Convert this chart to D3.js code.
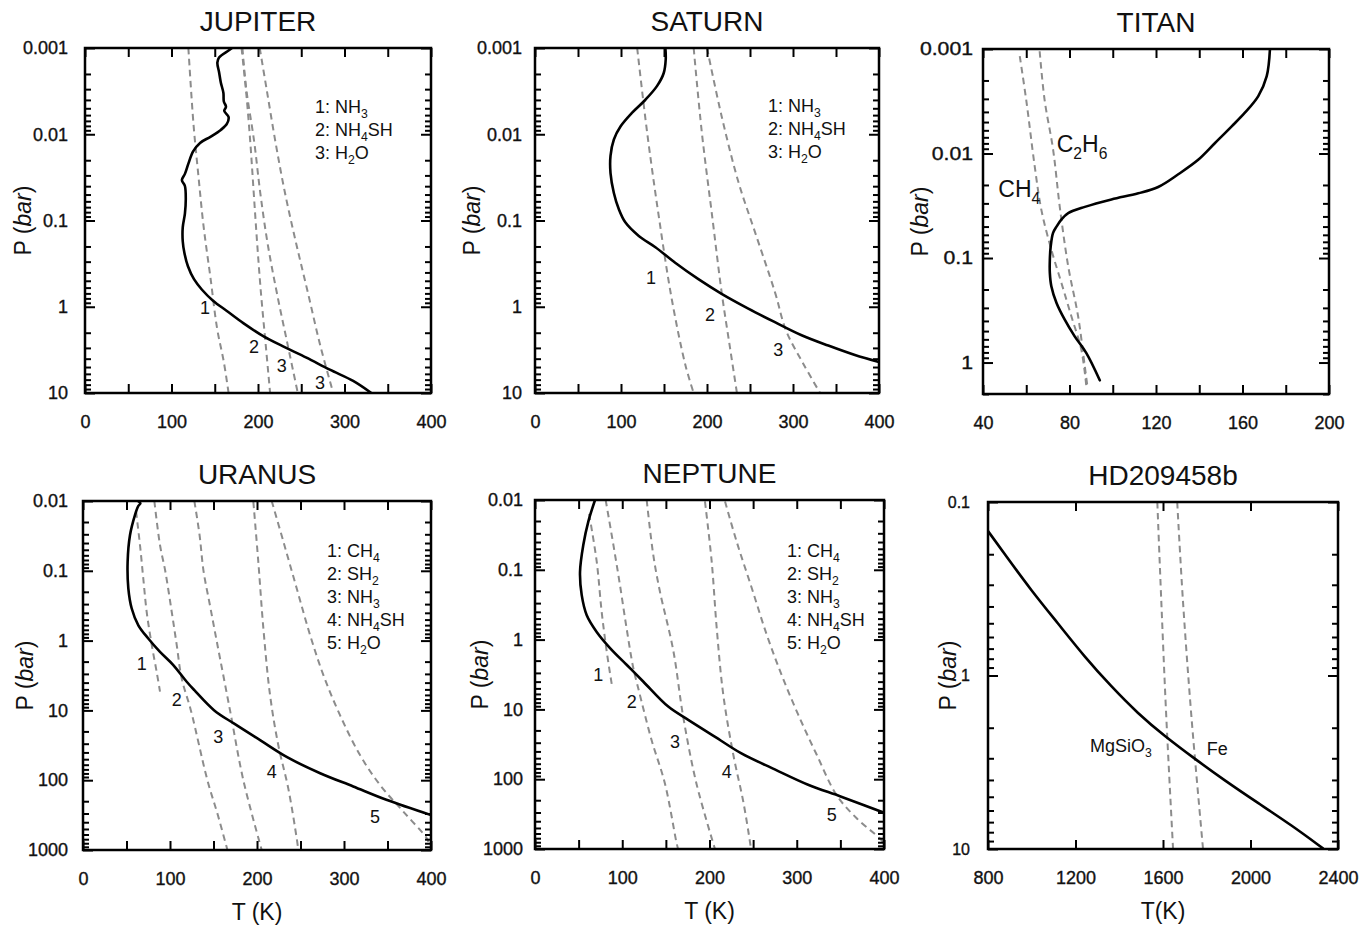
<!DOCTYPE html>
<html>
<head>
<meta charset="utf-8">
<script src="https://cdn.jsdelivr.net/npm/d3@7"></script>
<style>
  body { margin: 0; background: #fff; }
  svg { display: block; }
  text { font-family: "Liberation Sans", Arial, Helvetica, sans-serif; fill: #111; }
  .profile { fill: none; stroke: #000; stroke-width: 2.6; stroke-linejoin: round; stroke-linecap: round; }
  .cond { fill: none; stroke: #8c8c8c; stroke-width: 2; stroke-dasharray: 6.5 4.5; }
  .heavy { stroke: #111; stroke-width: 0.35; }
</style>
</head>
<body>
<svg id="chart" width="1365" height="926"></svg>
<script>
// ---------- axis tick values ----------
const tempTicksGiant = [0, 100, 200, 300, 400];
const tempTicksTitan = [40, 80, 120, 160, 200];
const tempTicksHD = [800, 1200, 1600, 2000, 2400];
const presTicksUpper = [0.001, 0.01, 0.1, 1, 10];
const presLabelsUpper = ["0.001", "0.01", "0.1", "1", "10"];
const presTicksTitan = [0.001, 0.01, 0.1, 1];
const presLabelsTitan = ["0.001", "0.01", "0.1", "1"];
const presTicksIce = [0.01, 0.1, 1, 10, 100, 1000];
const presLabelsIce = ["0.01", "0.1", "1", "10", "100", "1000"];
const presTicksHD = [0.1, 1, 10];
const presLabelsHD = ["0.1", "1", "10"];

// ---------- Jupiter: [T (K), P (bar)] ----------
const jupiterProfile = [[170,0.001],[166,0.00107],[155,0.00129],[153,0.00148],[155,0.00191],[157,0.00251],
  [160,0.00331],[160.5,0.00417],[163,0.00479],[161,0.00537],[166,0.00631],[164,0.00759],[157,0.00891],
  [145,0.0107],[133,0.0126],[125,0.0158],[119.5,0.0219],[115.5,0.0288],[112,0.0339],[115.5,0.0398],
  [116.5,0.0562],[115.5,0.0832],[113,0.12],[113,0.174],[115,0.24],[119,0.339],[126,0.479],[135,0.631],
  [148,0.851],[164,1.12],[183,1.55],[206,2.19],[229,2.88],[256,3.89],[283,5.37],[310,7.24],[331,10]];
const jupiterNH3 = [[119.5,0.001],[125.4,0.00759],[131,0.0295],[137,0.115],[145,0.457],[152.7,1.78],[160.5,4.37],[166,10]];
const jupiterNH4SH = [[181,0.001],[186,0.00302],[191,0.012],[195,0.0468],[199,0.182],[203.5,0.708],[209,2.82],[214,10]];
const jupiterH2Oa = [[182,0.001],[186.5,0.00302],[195.5,0.012],[202.5,0.0468],[211,0.182],[222,0.708],[234.5,2.82],[246,10]];
const jupiterH2Ob = [[202,0.001],[210,0.00302],[220,0.012],[231,0.0468],[244,0.182],[258,0.708],[272,2.82],[287,10]];
const jupiterTags = [["1",138.7,1.03],["2",195.4,2.9],["3",227.4,4.8],["3",271.7,7.5]];
const jupiterLegend = ["1: NH{3}", "2: NH{4}SH", "3: H{2}O"];

// ---------- Saturn ----------
const saturnProfile = [[151.6,0.001],[152,0.00135],[149.7,0.00195],[142,0.00275],[128.4,0.00398],[113,0.00562],
  [99.4,0.00813],[91.7,0.0115],[87.8,0.0178],[87.8,0.0282],[91.7,0.0479],[97.5,0.0741],[105,0.105],
  [120.7,0.151],[140,0.204],[163,0.309],[190,0.479],[217,0.708],[248,1.05],[279,1.51],[310,2.14],
  [341,2.82],[372,3.63],[400,4.37]];
const saturnNH3 = [[118.8,0.001],[130.4,0.00955],[143.9,0.0891],[159,0.813],[175,4.79],[184.5,10]];
const saturnNH4SH = [[184.5,0.001],[194,0.00955],[206,0.0891],[217,0.676],[227,3.1],[234.8,10]];
const saturnH2O = [[200,0.001],[217,0.00617],[236.7,0.0363],[256,0.138],[279,0.676],[292,1.9],[311,4.4],[331.5,10]];
const saturnTags = [["1",134.9,0.465],["2",203.5,1.25],["3",282.9,3.11]];
const saturnLegend = ["1: NH{3}", "2: NH{4}SH", "3: H{2}O"];

// ---------- Titan ----------
const titanProfile = [[172.7,0.001],[171.2,0.00182],[167.3,0.00282],[161.1,0.00407],[155,0.0055],[147.3,0.00794],
  [139.5,0.0115],[130.3,0.0158],[121,0.0209],[111.8,0.024],[99.4,0.0275],[87.1,0.0324],[79.4,0.0372],
  [76.3,0.0427],[74,0.0501],[72.4,0.0575],[71.3,0.0776],[70.9,0.105],[70.9,0.138],[71.6,0.186],[74,0.269],
  [77.8,0.389],[82.4,0.562],[87.8,0.813],[94,1.48]];
const titanCH4 = [[57,0.00117],[60,0.00309],[63.9,0.0132],[67,0.0347],[71.6,0.0832],[76.3,0.174],[80.9,0.363],[85.5,0.759],[87.8,1.7]];
const titanC2H6 = [[66.2,0.00105],[68.5,0.00309],[72.4,0.00912],[75.5,0.0324],[79.4,0.12],[84,0.363],[87.1,1.1],[88.3,1.7]];
const titanSpecies = [["C{2}H{6}",74.1,0.0096],["CH{4}",47.1,0.0259]];

// ---------- Uranus ----------
const uranusProfile = [[63,0.01],[66,0.0108],[63.5,0.0118],[59.8,0.0158],[54,0.0309],[51.3,0.0741],[52.1,0.178],
  [56,0.347],[63.6,0.603],[75,0.933],[88.5,1.45],[103.8,2.24],[119.2,3.89],[128,5.13],[150.9,10],[173.8,15.5],
  [204,26.9],[234.6,46.8],[272.6,79.4],[310.6,123],[348.7,191],[400,316]];
const uranusCH4 = [[61,0.0141],[65.5,0.0427],[69.3,0.129],[73.2,0.389],[79,1.15],[84.7,2.82],[88.5,5.37]];
const uranusSH2 = [[82,0.01],[88.5,0.0427],[94.5,0.1],[102,0.389],[107.7,1.15],[113.4,3.47],[124,10],[143,100],[155,316],[166,1000]];
const uranusNH3 = [[128,0.01],[134,0.0309],[138.5,0.1],[146,0.316],[153.6,1],[169,10],[184.3,100],[205.4,1000]];
const uranusNH4SH = [[195.8,0.0102],[201.5,0.0741],[207.3,0.661],[215,6.03],[224.5,31.6],[236,132],[245.6,676],[247.5,1000]];
const uranusH2O = [[216.9,0.01],[230.3,0.038],[245.6,0.178],[261,0.832],[276.2,3.09],[295.4,11.7],[318.4,43.7],[341.4,117],[368.2,282],[395,676],[398,832]];
const uranusTags = [["1",67.5,2.11],["2",107.7,7.1],["3",155.5,23.8],["4",216.9,75.5],["5",335.6,333]];
const uranusLegend = ["1: CH{4}", "2: SH{2}", "3: NH{3}", "4: NH{4}SH", "5: H{2}O"];

// ---------- Neptune ----------
const neptuneProfile = [[68.8,0.01],[61.1,0.0204],[55.4,0.0437],[51.6,0.107],[53.5,0.229],[59.3,0.447],[70.7,0.776],
  [86,1.32],[105,2.29],[124,3.98],[152.7,9.12],[175.6,14.1],[206,24.5],[236.6,42.7],[274.8,72.4],[313,120],
  [351,178],[400,302]];
const neptuneCH4 = [[62,0.0158],[70.7,0.0759],[76.4,0.398],[82.2,1.48],[88.5,4.8]];
const neptuneSH2 = [[81,0.01],[89.8,0.0437],[97.4,0.166],[105,0.692],[112.7,2.57],[118.4,5.01],[133.6,27.5],[148.9,115],[162.2,813],[164,1000]];
const neptuneNH3 = [[128,0.01],[135.6,0.0617],[143,0.2],[158.4,1.41],[169.8,12.6],[185,115],[206,977]];
const neptuneNH4SH = [[194.8,0.0105],[202.5,0.0759],[208.3,0.692],[215.8,6.17],[227.3,44.7],[238.7,209],[246.4,794],[247.5,1000]];
const neptuneH2O = [[217.8,0.0105],[231.2,0.0398],[248.4,0.182],[265.6,0.851],[282.8,3.24],[301.8,12],[322.9,44.7],[345.8,170],[368.7,363],[395.4,708],[399,800]];
const neptuneTags = [["1",72.6,3.21],["2",110.8,7.76],["3",160.5,29],["4",219.7,78.1],["5",340.1,326]];
const neptuneLegend = ["1: CH{4}", "2: SH{2}", "3: NH{3}", "4: NH{4}SH", "5: H{2}O"];

// ---------- HD209458b ----------
const hdProfile = [[800,0.147],[876,0.1995],[998,0.324],[1120,0.501],[1242,0.782],[1364,1.16],[1486,1.66],
  [1608,2.24],[1745,3.02],[1882,4.03],[2034,5.43],[2187,7.28],[2331,9.91]];
const hdMgSiO3 = [[1574,0.1],[1592,0.368],[1615,1.73],[1646,10]];
const hdFe = [[1665,0.1],[1691,0.368],[1730,1.73],[1783,10]];
const hdSpecies = [["MgSiO{3}",1266,2.75],["Fe",1800,2.87]];

// ---------- layout of the six panels ----------
const panels = [
  { key: "jup", title: "JUPITER", box: [85, 48, 431, 393], tDomain: [0, 400], tStep: 50, tTicks: tempTicksGiant,
    pDomain: [0.001, 10], pTicks: presTicksUpper, pLabels: presLabelsUpper, yGap: 17, ySx: 1, yTitleX: 54,
    profile: jupiterProfile, dashed: [jupiterNH3, jupiterNH4SH, jupiterH2Oa, jupiterH2Ob],
    tags: jupiterTags, legend: jupiterLegend, legendPos: [230, 65] },
  { key: "sat", title: "SATURN", box: [535, 48, 879, 393], tDomain: [0, 400], tStep: 50, tTicks: tempTicksGiant,
    pDomain: [0.001, 10], pTicks: presTicksUpper, pLabels: presLabelsUpper, yGap: 13, ySx: 1, yTitleX: 55,
    profile: saturnProfile, dashed: [saturnNH3, saturnNH4SH, saturnH2O],
    tags: saturnTags, legend: saturnLegend, legendPos: [233, 64] },
  { key: "tit", title: "TITAN", box: [983, 49, 1329, 394], tDomain: [40, 200], tStep: 20, tTicks: tempTicksTitan,
    pDomain: [0.001, 2], pTicks: presTicksTitan, pLabels: presLabelsTitan, yGap: 10, ySx: 1.18, yTitleX: 55,
    profile: titanProfile, dashed: [titanCH4, titanC2H6], species: titanSpecies, speciesSize: 23 },
  { key: "ura", title: "URANUS", box: [83, 501, 431, 850], tDomain: [0, 400], tStep: 50, tTicks: tempTicksGiant,
    pDomain: [0.01, 1000], pTicks: presTicksIce, pLabels: presLabelsIce, yGap: 15, ySx: 1, yTitleX: 50,
    profile: uranusProfile, dashed: [uranusCH4, uranusSH2, uranusNH3, uranusNH4SH, uranusH2O],
    tags: uranusTags, legend: uranusLegend, legendPos: [244, 56], xTitle: "T (K)" },
  { key: "nep", title: "NEPTUNE", box: [535, 500, 884, 849], tDomain: [0, 400], tStep: 50, tTicks: tempTicksGiant,
    pDomain: [0.01, 1000], pTicks: presTicksIce, pLabels: presLabelsIce, yGap: 12, ySx: 1, yTitleX: 47,
    profile: neptuneProfile, dashed: [neptuneCH4, neptuneSH2, neptuneNH3, neptuneNH4SH, neptuneH2O],
    tags: neptuneTags, legend: neptuneLegend, legendPos: [252, 57], xTitle: "T (K)" },
  { key: "hd", title: "HD209458b", box: [988, 502, 1338, 849], tDomain: [800, 2400], tStep: 400, tTicks: tempTicksHD,
    pDomain: [0.1, 10], pTicks: presTicksHD, pLabels: presLabelsHD, yGap: 18, ySx: 1, yTitleX: 32, yFont: 16,
    profile: hdProfile, dashed: [hdMgSiO3, hdFe], species: hdSpecies, speciesSize: 18, xTitle: "T(K)",
    smooth: true }
];

const svg = d3.select("#chart");

// Text with subscripts written as "NH{3}"
function richText(t, str, size) {
  const parts = str.split(/(\{[^}]*\})/).filter(s => s.length);
  let lowered = false;
  parts.forEach(part => {
    if (part.startsWith("{")) {
      t.append("tspan").attr("font-size", size * 0.68).attr("dy", lowered ? 0 : size * 0.3).text(part.slice(1, -1));
      lowered = true;
    } else {
      const ts = t.append("tspan").text(part);
      if (lowered) { ts.attr("dy", -size * 0.3); lowered = false; }
    }
  });
  return t;
}

function logTicks([lo, hi]) {
  const out = [];
  for (let k = Math.floor(Math.log10(lo)); k <= Math.ceil(Math.log10(hi)); k++) {
    for (let m = 1; m <= 9; m++) {
      const v = +(m * Math.pow(10, k)).toPrecision(6);
      if (v >= lo * 0.999 && v <= hi * 1.001) out.push(v);
    }
  }
  return out;
}
const isDecade = v => Math.abs(Math.log10(v) - Math.round(Math.log10(v))) < 1e-9;

function drawPanel(p) {
  const [x0, y0, x1, y1] = p.box;
  const x = d3.scaleLinear().domain(p.tDomain).range([x0, x1]);
  const y = d3.scaleLog().domain(p.pDomain).range([y0, y1]);
  const g = svg.append("g").attr("class", "panel-" + p.key);

  const clipId = "clip-" + p.key;
  g.append("clipPath").attr("id", clipId).append("rect")
    .attr("x", x0).attr("y", y0).attr("width", x1 - x0).attr("height", y1 - y0);

  const curve = d3.curveCatmullRom.alpha(0.5);
  const line = d3.line().x(d => x(d[0])).y(d => y(d[1])).curve(curve);
  const profileLine = d3.line().x(d => x(d[0])).y(d => y(d[1])).curve(p.smooth ? d3.curveBasis : curve);
  const plot = g.append("g").attr("clip-path", `url(#${clipId})`);
  p.dashed.forEach(c => plot.append("path").attr("class", "cond").attr("d", line(c)));
  plot.append("path").attr("class", "profile").attr("d", profileLine(p.profile));

  // inward tick marks on all four sides
  const tAll = d3.range(p.tDomain[0], p.tDomain[1] + 1e-6, p.tStep);
  const pAll = logTicks(p.pDomain);
  const pMajor = pAll.filter(isDecade);
  const pMinor = pAll.filter(v => !isDecade(v));
  const markAxes = [
    [d3.axisBottom(x).tickValues(tAll).tickSize(-9), `translate(0,${y1})`],
    [d3.axisTop(x).tickValues(tAll).tickSize(-9), `translate(0,${y0})`],
    [d3.axisLeft(y).tickValues(pMajor).tickSize(-10), `translate(${x0},0)`],
    [d3.axisLeft(y).tickValues(pMinor).tickSize(-6), `translate(${x0},0)`],
    [d3.axisRight(y).tickValues(pMajor).tickSize(-10), `translate(${x1},0)`],
    [d3.axisRight(y).tickValues(pMinor).tickSize(-6), `translate(${x1},0)`]
  ];
  markAxes.forEach(([ax, tr]) => {
    const a = g.append("g").attr("transform", tr).call(ax.tickFormat(""));
    a.select(".domain").remove();
    a.selectAll("line").attr("stroke", "#000").attr("stroke-width", 2);
  });

  g.append("rect").attr("x", x0).attr("y", y0).attr("width", x1 - x0).attr("height", y1 - y0)
    .attr("fill", "none").attr("stroke", "#000").attr("stroke-width", 2.5);

  // tick labels
  const bx = g.append("g").attr("transform", `translate(0,${y1})`)
    .call(d3.axisBottom(x).tickValues(p.tTicks).tickSize(0).tickPadding(22).tickFormat(d3.format("d")));
  bx.select(".domain").remove();
  bx.attr("font-size", 18).attr("font-family", null);
  bx.selectAll("text").attr("fill", "#111").attr("class", "heavy");

  const ly = g.append("g").attr("transform", `translate(${x0},0)`)
    .call(d3.axisLeft(y).tickValues(p.pTicks).tickSize(0).tickPadding(p.yGap / p.ySx)
      .tickFormat((d, i) => p.pLabels[i]));
  ly.select(".domain").remove();
  ly.attr("font-size", p.yFont || 18).attr("font-family", null);
  ly.selectAll("text").attr("fill", "#111").attr("class", "heavy").attr("transform", `scale(${p.ySx},1)`);

  // title
  g.append("text").attr("x", (x0 + x1) / 2).attr("y", y0 - 17).attr("text-anchor", "middle")
    .attr("font-size", 28).text(p.title);

  // pressure axis title
  const yt = g.append("text")
    .attr("transform", `translate(${x0 - p.yTitleX},${(y0 + y1) / 2}) rotate(-90)`)
    .attr("text-anchor", "middle").attr("font-size", 23);
  yt.append("tspan").text("P (");
  yt.append("tspan").attr("font-style", "italic").text("bar");
  yt.append("tspan").text(")");

  // temperature axis title (bottom row)
  if (p.xTitle) {
    g.append("text").attr("x", (x0 + x1) / 2).attr("y", y1 + 70).attr("text-anchor", "middle")
      .attr("font-size", 23).text(p.xTitle);
  }

  // numbered condensation-curve tags
  (p.tags || []).forEach(([s, t, pr]) => {
    g.append("text").attr("x", x(t)).attr("y", y(pr)).attr("dy", "0.35em")
      .attr("text-anchor", "middle").attr("font-size", 18).text(s);
  });

  // species names written beside the curves
  (p.species || []).forEach(([s, t, pr]) => {
    richText(g.append("text").attr("x", x(t)).attr("y", y(pr)).attr("font-size", p.speciesSize), s, p.speciesSize);
  });

  // legend list
  if (p.legend) {
    p.legend.forEach((s, i) => {
      richText(g.append("text").attr("x", x0 + p.legendPos[0]).attr("y", y0 + p.legendPos[1] + i * 23)
        .attr("font-size", 18), s, 18);
    });
  }
}

panels.forEach(drawPanel);
</script>
</body>
</html>
